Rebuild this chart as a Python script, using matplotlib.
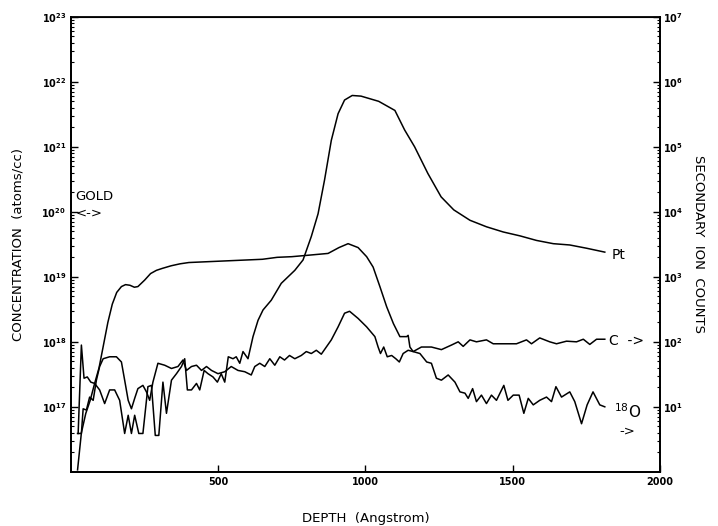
import numpy as np
import matplotlib
matplotlib.use("Agg")
import matplotlib.pyplot as plt
from matplotlib.ticker import FixedLocator, LogLocator, NullFormatter

# depth (Angstrom) and log10 concentration (atoms/cc)
pt_depth = [24, 35, 44, 55, 67, 80, 97, 114, 131, 148, 165, 182, 194, 205, 216, 230,
            244, 261, 273, 286, 298, 312, 324, 341, 358, 375, 386, 395, 409, 426, 437,
            452, 465, 482, 497, 510, 522, 534, 550, 561, 573, 584, 601, 618, 635, 652,
            680, 714, 760, 788, 816, 839, 861, 884, 907, 929, 955, 985, 1015, 1045,
            1100, 1133, 1167, 1212, 1257, 1300, 1355, 1411, 1468, 1525, 1581, 1638,
            1694, 1751, 1813]
pt_log = [16.59, 17.95, 17.44, 17.46, 17.38, 17.36, 17.26, 17.05, 17.26, 17.26, 17.10,
          16.59, 16.87, 16.59, 16.87, 16.59, 16.59, 17.31, 17.33, 16.56, 16.56, 17.38,
          16.90, 17.41, 17.51, 17.62, 17.74, 17.26, 17.26, 17.36, 17.26, 17.56, 17.51,
          17.46, 17.38, 17.51, 17.38, 17.77, 17.74, 17.77, 17.67, 17.85, 17.74, 18.08,
          18.33, 18.49, 18.64, 18.90, 19.10, 19.26, 19.62, 19.97, 20.49, 21.10, 21.51,
          21.72, 21.79, 21.78, 21.74, 21.70, 21.56, 21.26, 21.00, 20.59, 20.23, 20.03,
          19.87, 19.77, 19.69, 19.63, 19.56, 19.51, 19.49, 19.44, 19.38]

c_depth = [22, 35, 50, 65, 80, 95, 110, 125, 140, 155, 171, 185, 200, 215, 227, 250,
           270, 290, 310, 340, 370, 400, 450, 500, 550, 600, 650, 700, 750, 800, 873,
           910, 941, 975, 1004, 1026, 1049, 1072, 1095, 1117, 1140, 1145, 1151, 1162,
           1190, 1224, 1258, 1292, 1315, 1332, 1355, 1377, 1411, 1434, 1468, 1513,
           1547, 1564, 1592, 1626, 1649, 1683, 1717, 1740, 1762, 1785, 1813]
c_log = [16.03, 16.60, 16.90, 17.10, 17.36, 17.60, 17.95, 18.30, 18.58, 18.76, 18.85,
         18.88, 18.87, 18.84, 18.85, 18.95, 19.05, 19.10, 19.13, 19.17, 19.20, 19.22,
         19.23, 19.24, 19.25, 19.26, 19.27, 19.30, 19.31, 19.33, 19.36, 19.45, 19.51,
         19.45, 19.31, 19.15, 18.85, 18.54, 18.28, 18.08, 18.08, 18.10, 17.92, 17.85,
         17.92, 17.92, 17.88, 17.95, 18.00, 17.93, 18.03, 18.00, 18.03, 17.97, 17.97,
         17.97, 18.03, 17.97, 18.06, 18.00, 17.97, 18.01, 18.00, 18.04, 17.96, 18.04,
         18.04]

o_depth = [22, 35, 41, 52, 63, 75, 86, 97, 109, 131, 154, 171, 182, 194, 205, 216, 227,
           244, 256, 267, 278, 295, 318, 341, 363, 380, 392, 409, 426, 443, 460, 477,
           499, 522, 544, 567, 590, 612, 624, 641, 658, 675, 692, 709, 725, 742, 760,
           782, 799, 816, 833, 850, 867, 884, 907, 929, 946, 975, 1004, 1032, 1043,
           1051, 1062, 1074, 1089, 1103, 1115, 1128, 1145, 1162, 1185, 1208, 1224,
           1241, 1258, 1281, 1304, 1321, 1338, 1349, 1364, 1377, 1394, 1411, 1428,
           1445, 1470, 1484, 1502, 1522, 1538, 1553, 1570, 1592, 1615, 1632, 1647,
           1666, 1694, 1711, 1734, 1753, 1773, 1796, 1813]
o_log = [16.59, 16.59, 16.97, 16.95, 17.15, 17.10, 17.41, 17.62, 17.74, 17.77, 17.77,
         17.69, 17.41, 17.10, 16.97, 17.13, 17.28, 17.33, 17.23, 17.10, 17.38, 17.67,
         17.64, 17.59, 17.62, 17.72, 17.56, 17.62, 17.64, 17.56, 17.62, 17.56, 17.51,
         17.54, 17.62, 17.56, 17.54, 17.49, 17.62, 17.67, 17.62, 17.74, 17.64, 17.77,
         17.72, 17.79, 17.74, 17.79, 17.85, 17.82, 17.87, 17.81, 17.92, 18.03, 18.23,
         18.44, 18.47, 18.36, 18.23, 18.08, 17.92, 17.82, 17.92, 17.77, 17.79, 17.74,
         17.69, 17.82, 17.87, 17.85, 17.82, 17.69, 17.67, 17.44, 17.41, 17.49, 17.38,
         17.23, 17.21, 17.13, 17.28, 17.08, 17.18, 17.05, 17.18, 17.10, 17.33, 17.10,
         17.18, 17.18, 16.90, 17.13, 17.03, 17.10, 17.15, 17.08, 17.31, 17.15, 17.23,
         17.08, 16.74, 17.03, 17.23, 17.03, 17.00]

left_decades = [17, 18, 19, 20, 21, 22, 23]
right_decades = [1, 2, 3, 4, 5, 6, 7]
x_ticks = [500, 1000, 1500, 2000]

fig = plt.figure(figsize=(7.18, 5.26), dpi=100)
ax = fig.add_axes([0.099, 0.103, 0.820, 0.865])

for d, lg in [(pt_depth, pt_log), (c_depth, c_log), (o_depth, o_log)]:
    ax.plot(d, 10.0 ** np.array(lg), color="black", lw=1.1)

ax.set_yscale("log")
ax.set_xlim(0, 2000)
ax.set_ylim(1e16, 1e23)
ax.set_xticks(x_ticks)
ax.set_xticklabels([str(t) for t in x_ticks], fontsize=7, fontweight="bold")
ax.yaxis.set_major_locator(FixedLocator([10.0 ** d for d in left_decades]))
ax.set_yticklabels([r"$\mathbf{10^{%d}}$" % d for d in left_decades], fontsize=7)
ax.yaxis.set_minor_locator(LogLocator(base=10, subs=np.arange(2, 10)))
ax.yaxis.set_minor_formatter(NullFormatter())
ax.tick_params(direction="in", length=5, width=1, top=False)
ax.tick_params(which="minor", direction="in", length=2.5, width=0.8)

ax2 = ax.twinx()
ax2.set_yscale("log")
ax2.set_ylim(1, 1e7)
ax2.yaxis.set_major_locator(FixedLocator([10.0 ** d for d in right_decades]))
ax2.set_yticklabels([r"$\mathbf{10^{%d}}$" % d for d in right_decades], fontsize=7)
ax2.yaxis.set_minor_locator(LogLocator(base=10, subs=np.arange(2, 10)))
ax2.yaxis.set_minor_formatter(NullFormatter())
ax2.tick_params(direction="in", length=5, width=1, pad=2)
ax2.tick_params(which="minor", direction="in", length=2.5, width=0.8)

for a in (ax, ax2):
    for s in a.spines.values():
        s.set_linewidth(1.3)
ax.spines["top"].set_linewidth(0.8)

ax.set_xlabel("DEPTH  (Angstrom)", fontsize=9.5, labelpad=18)
ax.set_ylabel("CONCENTRATION  (atoms/cc)", fontsize=9.5, labelpad=12)
ax2.set_ylabel("SECONDARY  ION  COUNTS", fontsize=9.5, rotation=-90, labelpad=16)

ax.text(15, 10 ** 20.23, "GOLD", fontsize=9.5, va="center")
ax.text(15, 10 ** 19.98, "<->", fontsize=9.5, va="center")
ax.text(1835, 10 ** 19.33, "Pt", fontsize=10, va="center")
ax.text(1828, 10 ** 18.02, "C  ->", fontsize=10, va="center")
ax.text(1845, 10 ** 16.92, r"$^{18}$O", fontsize=11, va="center")
ax.text(1862, 10 ** 16.62, "->", fontsize=9.5, va="center")

fig.savefig("out.png", dpi=100)
